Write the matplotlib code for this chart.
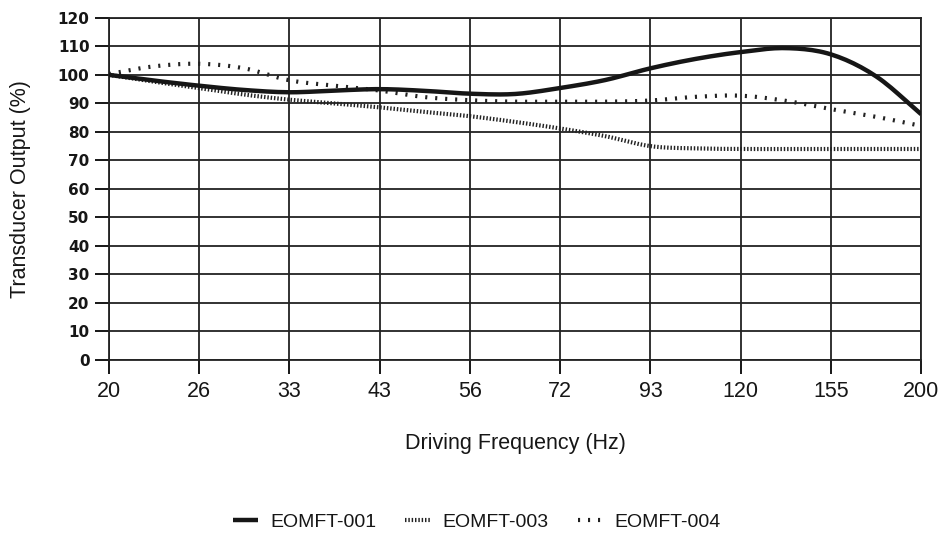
import numpy as np
import matplotlib
matplotlib.use("Agg")
import matplotlib.pyplot as plt

plt.rcParams['font.family'] = ['Liberation Sans', 'DejaVu Sans']

# Frequency ticks (evenly spaced, log-like progression)
freq_labels = ["20", "26", "33", "43", "56", "72", "93", "120", "155", "200"]

# Readings taken at each tick and half-way between ticks (position index)
positions = [0, 0.5, 1, 1.5, 2, 2.5, 3, 3.5, 4, 4.5, 5, 5.5, 6, 6.5, 7, 7.5, 8, 8.5, 9]

eomft_001 = [100.0, 98.0, 96.2, 94.7, 93.9, 94.5, 95.0, 94.4, 93.4, 93.3,
             95.4, 98.2, 102.3, 105.6, 108.0, 109.4, 107.2, 99.5, 86.2]
eomft_003 = [100.0, 97.6, 95.4, 93.1, 91.3, 90.0, 88.6, 87.0, 85.5, 83.5,
             81.2, 78.5, 75.0, 74.2, 74.0, 74.0, 74.0, 74.0, 74.0]
eomft_004 = [100.3, 103.0, 103.9, 102.3, 98.1, 96.2, 94.5, 92.2, 91.1, 90.6,
             90.6, 90.6, 91.0, 92.3, 92.7, 90.9, 88.0, 85.3, 82.1]

y_ticks = list(range(0, 121, 10))

INK = '#161616'


def smooth(x, y, n=12):
    """Catmull-Rom curve through the readings for a smooth trace."""
    x = np.asarray(x, float)
    y = np.asarray(y, float)
    px = np.concatenate([[2 * x[0] - x[1]], x, [2 * x[-1] - x[-2]]])
    py = np.concatenate([[2 * y[0] - y[1]], y, [2 * y[-1] - y[-2]]])
    xs, ys = [], []
    t = np.linspace(0, 1, n, endpoint=False)
    for i in range(1, len(px) - 2):
        for arr, out in ((px, xs), (py, ys)):
            p0, p1, p2, p3 = arr[i - 1], arr[i], arr[i + 1], arr[i + 2]
            out.extend(0.5 * ((2 * p1) + (-p0 + p2) * t
                              + (2 * p0 - 5 * p1 + 4 * p2 - p3) * t ** 2
                              + (-p0 + 3 * p1 - 3 * p2 + p3) * t ** 3))
    xs.append(x[-1])
    ys.append(y[-1])
    return np.array(xs), np.array(ys)


fig = plt.figure(figsize=(9.39, 5.42), dpi=100)
ax = fig.add_axes([0.116, 0.336, 0.865, 0.631])

sx, sy = smooth(positions, eomft_001)
ax.plot(sx, sy, color=INK, lw=3.2, solid_capstyle='butt',
        label='EOMFT-001', zorder=4)
sx, sy = smooth(positions, eomft_003)
ax.plot(sx, sy, color='#222222', lw=3.0, linestyle=(0, (0.35, 0.45)),
        dash_capstyle='butt', label='EOMFT-003', zorder=3)
sx, sy = smooth(positions, eomft_004)
ax.plot(sx, sy, color='#222222', lw=3.0, linestyle=(0, (0.5, 1.9)),
        dash_capstyle='butt', label='EOMFT-004', zorder=3)

ax.set_xlim(0, len(freq_labels) - 1)
ax.set_ylim(0, 120)
ax.set_xticks(range(len(freq_labels)))
ax.set_xticklabels(freq_labels)
ax.set_yticks(y_ticks)

ax.grid(True, color='#222222', lw=1.3)
for s in ax.spines.values():
    s.set_color('#222222')
    s.set_linewidth(1.3)

ax.tick_params(axis='x', direction='out', length=10, width=1.4, pad=5,
               labelsize=15.5, colors=INK)
ax.tick_params(axis='y', direction='out', length=10, width=1.4, pad=4,
               colors=INK)
for lab in ax.get_yticklabels():
    lab.set_fontfamily('DejaVu Sans')
    lab.set_fontweight('bold')
    lab.set_fontsize(11)

ax.set_xlabel('Driving Frequency (Hz)', fontsize=15.5, color=INK)
ax.xaxis.set_label_coords(0.5, -0.215)
ax.set_ylabel('Transducer Output (%)', fontsize=15.5, color=INK)
ax.yaxis.set_label_coords(-0.096, 0.5)

fig.legend(loc='center', bbox_to_anchor=(0.508, 0.036), ncol=3, frameon=False,
           fontsize=14, handlelength=1.3, handletextpad=0.6,
           columnspacing=1.5, labelcolor=INK)

fig.savefig('out.png', dpi=100, facecolor='white')
